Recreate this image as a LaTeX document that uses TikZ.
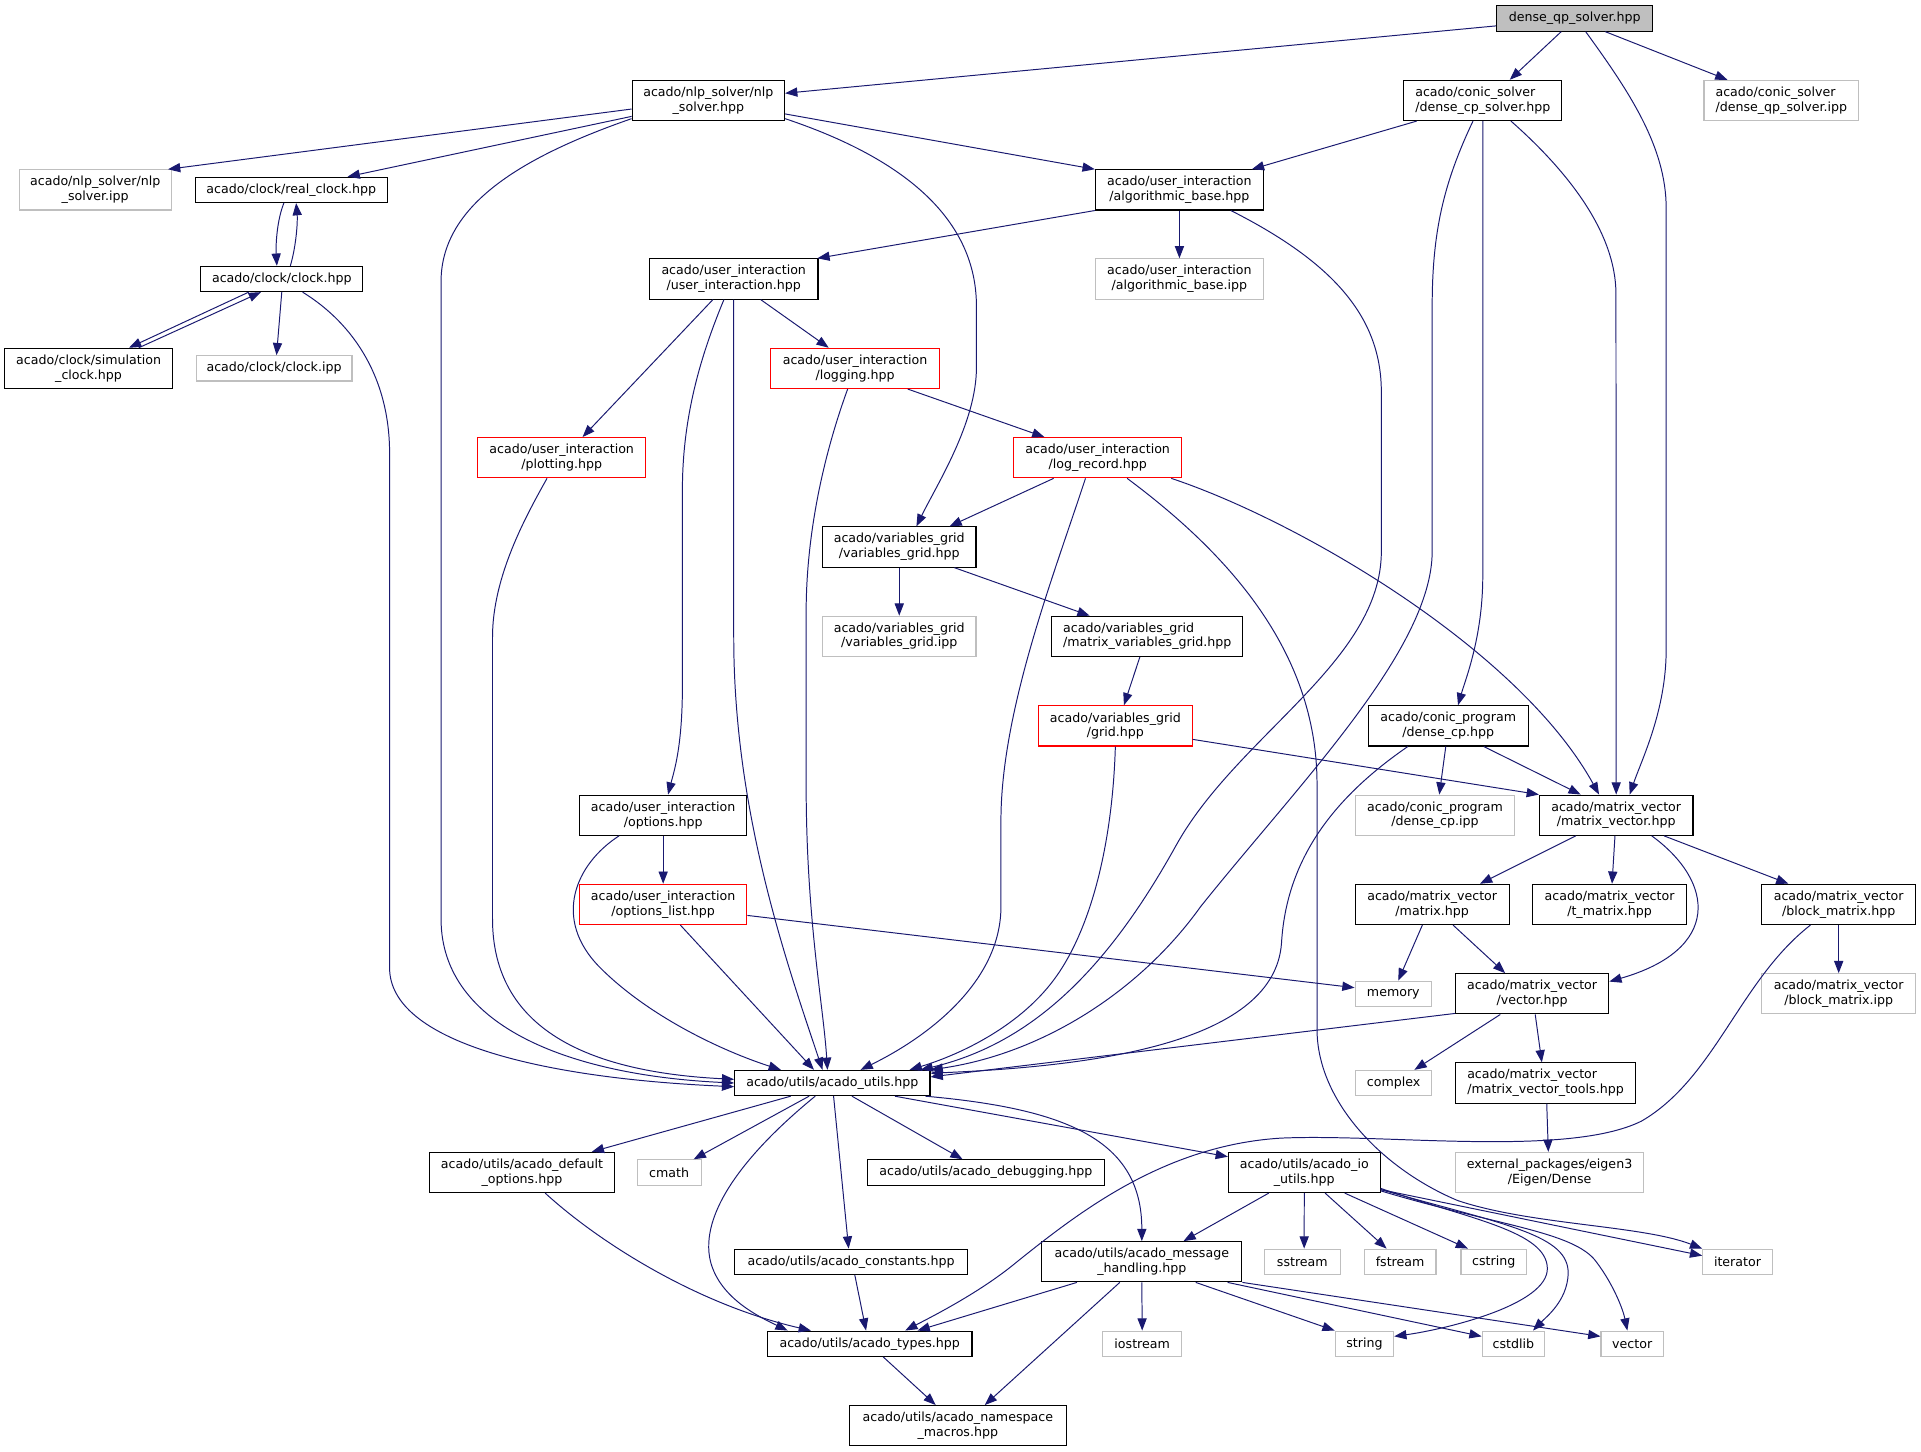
\documentclass[tikz,border=0pt]{standalone}
\usepackage{fontspec}
\setmainfont{DejaVu Sans}
\usetikzlibrary{arrows.meta}
\definecolor{EdgeBlue}{HTML}{191970}
\definecolor{SysGray}{HTML}{BFBFBF}
\definecolor{BadRed}{HTML}{FF0000}

\tikzset{
  file/.style={draw=black, line width=0.9pt, inner sep=0pt, align=center,
    font=\fontsize{10.3}{12}\selectfont},
  one/.style={minimum height=20.6pt},
  two/.style={minimum height=32.8pt},
  bw/.style={minimum width=#1},
  sys/.style={draw=SysGray},
  bad/.style={draw=BadRed},
  rootfile/.style={fill=SysGray},
  dep/.style={draw=EdgeBlue, line width=0.8pt, -{Triangle[length=10pt,width=7.5pt]}},
}

\begin{document}
\begin{tikzpicture}[x=1pt,y=-1pt]
  \fill[white] (0,0) rectangle (1568,1185);

  \node[file,one,rootfile,bw=127.6pt] (root) at (1285.3,15.1) {dense\_qp\_solver.hpp};
  \node[file,two,bw=124.4pt] (nlps) at (578.2,82) {acado/nlp\_solver/nlp\\\_solver.hpp};
  \node[file,two,bw=129pt,align=left] (dcps) at (1210.3,82) {acado/conic\_solver\\/dense\_cp\_solver.hpp};
  \node[file,two,sys,bw=126.3pt,align=left] (dqpipp) at (1454,82) {acado/conic\_solver\\/dense\_qp\_solver.ipp};
  \node[file,two,sys,bw=124pt] (nlpipp) at (77.7,155) {acado/nlp\_solver/nlp\\\_solver.ipp};
  \node[file,one,bw=156.7pt] (rclk) at (237.7,155) {acado/clock/real\_clock.hpp};
  \node[file,two,bw=137.3pt] (algb) at (962.7,155) {acado/user\_interaction\\/algorithmic\_base.hpp};
  \node[file,one,bw=132pt] (clk) at (230,227.7) {acado/clock/clock.hpp};
  \node[file,two,bw=137.6pt] (uint) at (598.9,227.7) {acado/user\_interaction\\/user\_interaction.hpp};
  \node[file,two,sys,bw=137.3pt] (algbipp) at (962.7,227.7) {acado/user\_interaction\\/algorithmic\_base.ipp};
  \node[file,two,bw=136.7pt] (simclk) at (72.3,300.7) {acado/clock/simulation\\\_clock.hpp};
  \node[file,one,sys,bw=127.3pt] (clkipp) at (223.7,300.7) {acado/clock/clock.ipp};
  \node[file,two,bad,bw=137.6pt] (logg) at (697.9,300.7) {acado/user\_interaction\\/logging.hpp};
  \node[file,two,bad,bw=137pt] (plot) at (458.5,373.6) {acado/user\_interaction\\/plotting.hpp};
  \node[file,two,bad,bw=137.3pt] (logrec) at (896,373.6) {acado/user\_interaction\\/log\_record.hpp};
  \node[file,two,bw=125.3pt] (vgrid) at (734,446.5) {acado/variables\_grid\\/variables\_grid.hpp};
  \node[file,two,sys,bw=125.3pt] (vgridipp) at (734,519.4) {acado/variables\_grid\\/variables\_grid.ipp};
  \node[file,two,bw=156pt,align=left] (mvgrid) at (936.4,519.4) {acado/variables\_grid\\/matrix\_variables\_grid.hpp};
  \node[file,two,bad,bw=125.3pt] (grid) at (910.4,592.5) {acado/variables\_grid\\/grid.hpp};
  \node[file,two,bw=130.7pt] (dcp) at (1182.1,592.5) {acado/conic\_program\\/dense\_cp.hpp};
  \node[file,two,bw=136.7pt] (opts) at (541.3,665.4) {acado/user\_interaction\\/options.hpp};
  \node[file,two,sys,bw=130.3pt] (dcpipp) at (1171.3,665.4) {acado/conic\_program\\/dense\_cp.ipp};
  \node[file,two,bw=125.3pt] (mv) at (1319.2,665.4) {acado/matrix\_vector\\/matrix\_vector.hpp};
  \node[file,two,bad,bw=136.7pt] (optl) at (541.3,738.2) {acado/user\_interaction\\/options\_list.hpp};
  \node[file,two,bw=125.7pt] (mat) at (1169,738.2) {acado/matrix\_vector\\/matrix.hpp};
  \node[file,two,bw=125.4pt] (tmat) at (1313.8,738.2) {acado/matrix\_vector\\/t\_matrix.hpp};
  \node[file,two,bw=125.4pt] (bmat) at (1500.8,738.2) {acado/matrix\_vector\\/block\_matrix.hpp};
  \node[file,one,sys,bw=62.4pt] (mem) at (1137.3,811.2) {memory};
  \node[file,two,bw=125pt] (vec) at (1250.6,811.2) {acado/matrix\_vector\\/vector.hpp};
  \node[file,two,sys,bw=125.4pt] (bmatipp) at (1500.8,811.2) {acado/matrix\_vector\\/block\_matrix.ipp};
  \node[file,one,bw=159.4pt] (utils) at (679.4,884) {acado/utils/acado\_utils.hpp};
  \node[file,one,sys,bw=62pt] (cplx) at (1137.5,884) {complex};
  \node[file,two,bw=146.7pt,align=left] (mvtools) at (1261.5,884) {acado/matrix\_vector\\/matrix\_vector\_tools.hpp};
  \node[file,two,bw=151.3pt] (defopt) at (426,957) {acado/utils/acado\_default\\\_options.hpp};
  \node[file,one,sys,bw=52.4pt] (cmath) at (546.2,957) {cmath};
  \node[file,one,bw=193.3pt] (dbg) at (804.7,957) {acado/utils/acado\_debugging.hpp};
  \node[file,two,bw=123.8pt] (io) at (1064.6,957) {acado/utils/acado\_io\\\_utils.hpp};
  \node[file,two,sys,bw=154pt] (eigen) at (1264.8,957) {external\_packages/eigen3\\/Eigen/Dense};
  \node[file,one,bw=190pt] (const) at (694.7,1029.9) {acado/utils/acado\_constants.hpp};
  \node[file,two,bw=163.3pt] (msg) at (932,1029.9) {acado/utils/acado\_message\\\_handling.hpp};
  \node[file,one,sys,bw=61.8pt] (sstr) at (1063,1029.9) {sstream};
  \node[file,one,sys,bw=58.6pt] (fstr) at (1142.8,1029.9) {fstream};
  \node[file,one,sys,bw=53.3pt] (cstr) at (1219.2,1029.9) {cstring};
  \node[file,one,sys,bw=56.7pt] (iter) at (1418.2,1029.9) {iterator};
  \node[file,one,bw=167pt] (types) at (709.9,1096.8) {acado/utils/acado\_types.hpp};
  \node[file,one,sys,bw=64.3pt] (iostr) at (932.3,1096.8) {iostream};
  \node[file,one,sys,bw=47.7pt] (str) at (1113.7,1096.8) {string};
  \node[file,one,sys,bw=51pt] (cstdl) at (1235.3,1096.8) {cstdlib};
  \node[file,one,sys,bw=51pt] (vecs) at (1332.3,1096.8) {vector};
  \node[file,two,bw=176.7pt] (nsm) at (781.8,1163.7) {acado/utils/acado\_namespace\\\_macros.hpp};

  \draw[dep] (root) -- (nlps);
  \draw[dep] ([xshift=-11pt]root.south) -- ([xshift=22pt]dcps.north);
  \draw[dep] ([xshift=9pt]root.south) .. controls (1330,75) and (1360,120) .. (1360,170) -- (1360,530) .. controls (1360,580) and (1340,620) .. ([xshift=11pt]mv.north);
  \draw[dep] ([xshift=25pt]root.south) -- ([xshift=-44pt]dqpipp.north);

  \draw[dep] ([yshift=-7pt]nlps.west) -- ([xshift=-3pt]nlpipp.north east);
  \draw[dep] ([yshift=-13pt]nlps.west) -- ([xshift=46pt]rclk.north);
  \draw[dep] ([yshift=2pt]nlps.south west) .. controls (420,130) and (360,170) .. (360,230) -- (360,750) .. controls (360,840) and (470,878) .. (utils.west);
  \draw[dep] ([yshift=-11pt]nlps.east) -- (algb.north west);
  \draw[dep] ([yshift=2pt]nlps.south east) .. controls (740,130) and (797,180) .. (797,250) -- (797,300) .. controls (797,345) and (765,395) .. ([xshift=14pt]vgrid.north);

  \draw[dep] ([xshift=-54pt]dcps.south) -- ([xshift=-10pt]algb.north east);
  \draw[dep] ([xshift=-8pt]dcps.south) .. controls (1178,150) and (1169,190) .. (1169,250) -- (1169,450) .. controls (1169,530) and (1060,640) .. (980,740) .. controls (930,810) and (850,860) .. (utils.north east);
  \draw[dep] (dcps.south) -- (1210.3,470) .. controls (1210.3,520) and (1196,555) .. ([xshift=8pt]dcp.north);
  \draw[dep] ([xshift=23pt]dcps.south) .. controls (1280,140) and (1319,190) .. (1319,240) -- (mv.north);

  \draw[dep] (algb.south west) -- ([xshift=-1pt]uint.north east);
  \draw[dep] (algb) -- (algbipp);
  \draw[dep] ([xshift=42pt]algb.south) .. controls (1090,215) and (1127.5,260) .. (1127.5,320) -- (1127.5,450) .. controls (1127.5,540) and (1010,600) .. (960,690) .. controls (910,780) and (850,850) .. ([xshift=72pt]utils.north);

  \draw[dep] ([xshift=-6pt]rclk.south) .. controls (226,180) and (225,200) .. ([xshift=-4pt]clk.north);
  \draw[dep] ([xshift=7pt]clk.north) .. controls (242,200) and (243,180) .. ([xshift=4pt]rclk.south);
  \draw[dep] ([xshift=-27pt]clk.south) -- ([xshift=33pt]simclk.north);
  \draw[dep] ([xshift=41pt]simclk.north) -- ([xshift=-17pt]clk.south);
  \draw[dep] (clk.south) -- ([xshift=2pt]clkipp.north);
  \draw[dep] ([xshift=17pt]clk.south) .. controls (290,265) and (318,310) .. (318,370) -- (318,790) .. controls (318,850) and (440,880) .. ([yshift=-3pt]utils.west);

  \draw[dep] ([xshift=-17pt]uint.south) -- ([xshift=17pt]plot.north);
  \draw[dep] ([xshift=-8pt]uint.south) .. controls (572,290) and (557,340) .. (557,400) -- (557,560) .. controls (557,610) and (550,630) .. ([xshift=4pt]opts.north);
  \draw[dep] (uint.south) -- (598.9,520) .. controls (598.9,660) and (640,780) .. ([xshift=-8pt]utils.north);
  \draw[dep] ([xshift=22pt]uint.south) -- ([xshift=-21.5pt]logg.north);

  \draw[dep] ([xshift=43pt]logg.south) -- ([xshift=-43.5pt]logrec.north);
  \draw[dep] ([xshift=-6pt]logg.south) .. controls (680,350) and (658,420) .. (658,500) -- (658,640) .. controls (658,750) and (672,820) .. ([xshift=-4pt]utils.north);

  \draw[dep] ([xshift=-12pt]plot.south) .. controls (430,420) and (402,470) .. (402,520) -- (402,750) .. controls (402,840) and (480,875) .. ([yshift=3pt]utils.west);

  \draw[dep] ([xshift=-36pt]logrec.south) -- ([xshift=41pt]vgrid.north);
  \draw[dep] ([xshift=-10pt]logrec.south) .. controls (860,470) and (817,580) .. (817,670) -- (817,740) .. controls (817,800) and (760,845) .. ([xshift=23pt]utils.north);
  \draw[dep] ([xshift=60pt]logrec.south) .. controls (1060,425) and (1240,530) .. ([xshift=-14pt]mv.north);
  \draw[dep] ([xshift=24pt]logrec.south) .. controls (1000,450) and (1075,530) .. (1075,640) -- (1075,840) .. controls (1075,900) and (1130,955) .. (1190,980) .. controls (1250,1000) and (1340,1000) .. (iter.north west);

  \draw[dep] (vgrid) -- (vgridipp);
  \draw[dep] ([xshift=45pt]vgrid.south) -- ([xshift=-47pt]mvgrid.north);
  \draw[dep] ([xshift=-6pt]mvgrid.south) -- ([xshift=7pt]grid.north);
  \draw[dep] ([yshift=-11pt]grid.east) -- (mv.north west);
  \draw[dep] (grid.south) .. controls (908,690) and (890,760) .. (860,800) .. controls (830,840) and (780,862) .. ([xshift=63pt]utils.north);

  \draw[dep] ([xshift=-2pt]dcp.south) -- ([xshift=3.5pt]dcpipp.north);
  \draw[dep] ([xshift=29pt]dcp.south) -- ([xshift=-29pt]mv.north);
  \draw[dep] ([xshift=-33pt]dcp.south) .. controls (1090,650) and (1050,700) .. (1046,770) .. controls (1040,850) and (900,870) .. ([yshift=8pt]utils.east);

  \draw[dep] (opts) -- (optl);
  \draw[dep] ([xshift=-36pt]opts.south) .. controls (470,705) and (450,750) .. (490,790) .. controls (530,830) and (590,858) .. ([xshift=-42pt]utils.north);
  \draw[dep] ([xshift=14pt]optl.south) -- ([xshift=-15pt]utils.north);
  \draw[dep] ([yshift=-9pt]optl.east) -- ([yshift=5pt]mem.west);

  \draw[dep] ([xshift=-33pt]mv.south) -- ([xshift=39pt]mat.north);
  \draw[dep] ([xshift=-1pt]mv.south) -- ([xshift=2pt]tmat.north);
  \draw[dep] ([xshift=29pt]mv.south) .. controls (1400,720) and (1405,775) .. ([yshift=10pt]vec.east);
  \draw[dep] ([xshift=39pt]mv.south) -- ([xshift=-41pt]bmat.north);

  \draw[dep] ([xshift=-8pt]mat.south) -- ([xshift=4pt]mem.north);
  \draw[dep] ([xshift=17pt]mat.south) -- ([xshift=-22pt]vec.north);
  \draw[dep] (bmat) -- (bmatipp);
  \draw[dep] ([xshift=-23pt]bmat.south) .. controls (1420,800) and (1400,880) .. (1340,915) .. controls (1280,945) and (1130,925) .. (1045,929) .. controls (950,935) and (880,990) .. (830,1030) .. controls (800,1055) and (760,1075) .. ([xshift=29pt]types.north);

  \draw[dep] ([yshift=-16pt]vec.west) -- ([yshift=5pt]utils.east);
  \draw[dep] ([xshift=-26pt]vec.south) -- ([xshift=17pt]cplx.north);
  \draw[dep] ([xshift=2.5pt]vec.south) -- ([xshift=-3pt]mvtools.north);
  \draw[dep] ([xshift=1pt]mvtools.south) -- ([xshift=-1pt]eigen.north);

  \draw[dep] ([xshift=-34pt]utils.south) -- ([xshift=57pt]defopt.north);
  \draw[dep] ([xshift=-19pt]utils.south) -- ([xshift=20pt]cmath.north);
  \draw[dep] ([xshift=-14pt]utils.south) .. controls (610,940) and (570,990) .. (580,1030) .. controls (588,1060) and (620,1075) .. ([xshift=-67pt]types.north);
  \draw[dep] ([xshift=1pt]utils.south) -- ([xshift=-2pt]const.north);
  \draw[dep] ([xshift=16pt]utils.south) -- ([xshift=-19pt]dbg.north);
  \draw[dep] ([xshift=76pt]utils.south) .. controls (870,905) and (932,930) .. (msg.north);
  \draw[dep] ([xshift=51pt]utils.south) -- ([yshift=-4pt]io.north west);

  \draw[dep] ([xshift=19pt]defopt.south) .. controls (490,1015) and (570,1065) .. ([xshift=-48pt]types.north);
  \draw[dep] ([xshift=3pt]const.south) -- ([xshift=-3pt]types.north);

  \draw[dep] ([xshift=-29pt]io.south) -- ([xshift=34pt]msg.north);
  \draw[dep] (io.south) -- ([xshift=1.5pt]sstr.north);
  \draw[dep] ([xshift=17pt]io.south) -- ([xshift=-11pt]fstr.north);
  \draw[dep] ([xshift=33pt]io.south) -- ([xshift=-21pt]cstr.north);
  \draw[dep] ([yshift=-13pt]io.east) .. controls (1200,995) and (1262,1005) .. (1263,1035) .. controls (1264,1065) and (1180,1085) .. ([yshift=6pt]str.east);
  \draw[dep] ([yshift=-14pt]io.east) .. controls (1230,1000) and (1281,1008) .. (1280,1040) .. controls (1279,1062) and (1262,1075) .. ([xshift=16pt]cstdl.north);
  \draw[dep] ([yshift=-15pt]io.east) .. controls (1220,1000) and (1285,1005) .. (1303,1030) .. controls (1318,1050) and (1325,1070) .. ([xshift=-4pt]vecs.north);
  \draw[dep] ([yshift=-14pt]io.east) -- ([yshift=5pt]iter.west);

  \draw[dep] ([xshift=-53pt]msg.south) -- ([xshift=39pt]types.north);
  \draw[dep] ([xshift=-18pt]msg.south) -- ([xshift=22pt]nsm.north);
  \draw[dep] (msg.south) -- (iostr.north);
  \draw[dep] ([xshift=44pt]msg.south) -- (str.north west);
  \draw[dep] ([xshift=70pt]msg.south) -- ([yshift=6pt]cstdl.west);
  \draw[dep] (msg.south east) -- ([yshift=6pt]vecs.west);

  \draw[dep] ([xshift=11pt]types.south) -- ([xshift=-18pt]nsm.north);
\end{tikzpicture}
\end{document}
